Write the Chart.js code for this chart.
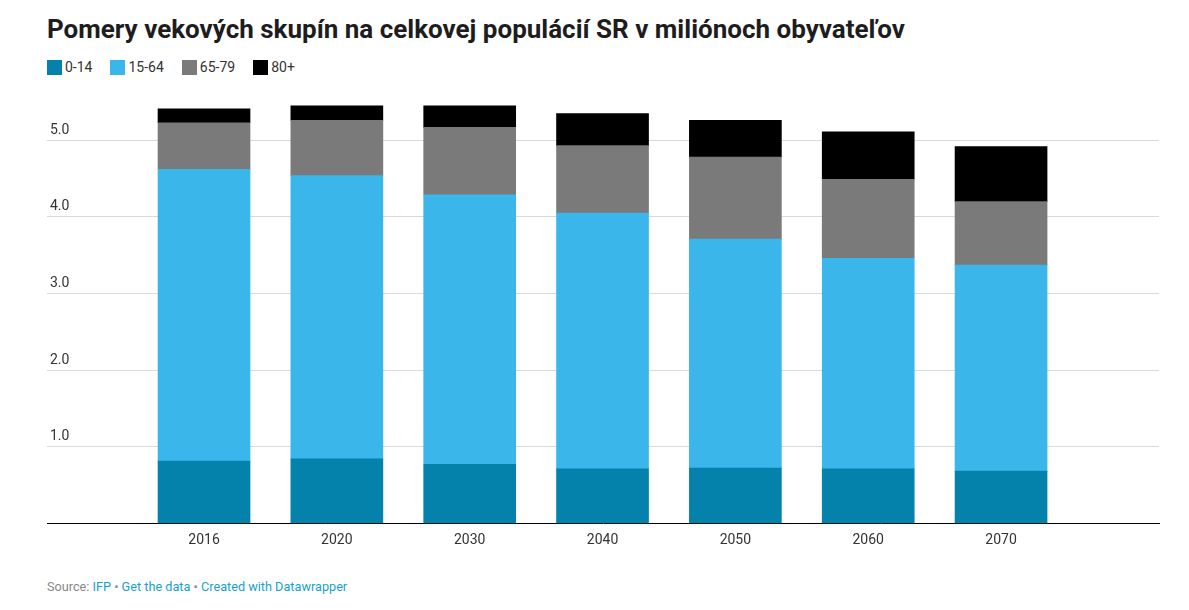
<!DOCTYPE html>
<html>
<head>
<meta charset="utf-8">
<script src="https://cdn.jsdelivr.net/npm/chart.js@4"></script>
<style>
  body { margin: 0; background: #fff; font-family: Roboto, sans-serif; color: #333; }
  #titulok { position: absolute; left: 47px; top: 14px; font-size: 26px; font-weight: 700; color: #1d1d1d; white-space: nowrap; }
  #legenda { position: absolute; left: 47px; top: 59px; font-size: 14px; display: flex; }
  #legenda span.pol { display: flex; align-items: center; margin-right: 18px; }
  #legenda i { display: inline-block; width: 15px; height: 15px; margin-right: 3px; }
  #graf { position: absolute; left: 0; top: 83px; width: 1189px; height: 479px; }
  #paticka { position: absolute; left: 47px; top: 579px; font-size: 12.7px; color: #888; }
  #paticka a { color: #18a1cd; text-decoration: none; }
</style>
</head>
<body>
<div id="titulok">Pomery vekových skupín na celkovej populácií SR v miliónoch obyvateľov</div>
<div id="legenda"></div>
<div id="graf"><canvas id="platno"></canvas></div>
<div id="paticka">Source: <a>IFP</a> • <a>Get the data</a> • <a>Created with Datawrapper</a></div>
<script>
// roky a skupiny
const roky = ['2016', '2020', '2030', '2040', '2050', '2060', '2070']
const skupiny = ['0-14', '15-64', '65-79', '80+']
const farby = ['#0582ab', '#3bb6eb', '#7a7a7a', '#000000']

// hodnoty v milionoch
const deti = [0.81, 0.84, 0.77, 0.71, 0.72, 0.71, 0.68]
const produktivni = [3.81, 3.70, 3.52, 3.34, 2.99, 2.75, 2.69]
const seniori = [0.61, 0.72, 0.88, 0.88, 1.07, 1.03, 0.83]
const najstarsi = [0.18, 0.19, 0.28, 0.42, 0.48, 0.62, 0.72]
const hodnoty = [deti, produktivni, seniori, najstarsi]

// legenda
const legenda = document.getElementById('legenda')
skupiny.forEach((s, i) => {
    legenda.innerHTML += '<span class="pol"><i style="background:' + farby[i] + '"></i>' + s + '</span>'
})

function dataset(i) {
    return {
        label: skupiny[i],
        data: roky.map((r, j) => ({ x: j, y: hodnoty[i][j] })),
        backgroundColor: farby[i],
        barThickness: 92,
        borderWidth: 0
    }
}

const platno = document.getElementById('platno')

new Chart(platno, {
    type: 'bar',
    data: {
        datasets: [dataset(0), dataset(1), dataset(2), dataset(3)]
    },
    options: {
        responsive: true,
        maintainAspectRatio: false,
        animation: false,
        layout: { padding: { left: 41, right: 30, top: 4, bottom: 4 } },
        plugins: { legend: { display: false }, tooltip: { enabled: false } },
        scales: {
            x: {
                type: 'linear',
                stacked: true,
                offset: false,
                min: -1.182,
                max: 7.189,
                afterBuildTicks: axis => { axis.ticks = roky.map((r, j) => ({ value: j })) },
                ticks: {
                    callback: v => roky[v],
                    font: { family: 'Roboto', size: 14 },
                    color: '#333',
                    padding: 9,
                    maxRotation: 0
                },
                grid: { display: false, drawTicks: false },
                border: { display: true, color: '#000', width: 1 }
            },
            y: {
                stacked: true,
                min: 0,
                max: 5.6,
                afterBuildTicks: axis => { axis.ticks = axis.ticks.filter(t => t.value > 0 && Number.isInteger(t.value)) },
                ticks: {
                    stepSize: 1,
                    mirror: true,
                    padding: 3,
                    labelOffset: -10,
                    callback: v => v.toFixed(1),
                    font: { family: 'Roboto', size: 14 },
                    color: '#333'
                },
                grid: { color: '#d9d9d9', drawTicks: false },
                border: { display: false }
            }
        }
    }
})
</script>
</body>
</html>
